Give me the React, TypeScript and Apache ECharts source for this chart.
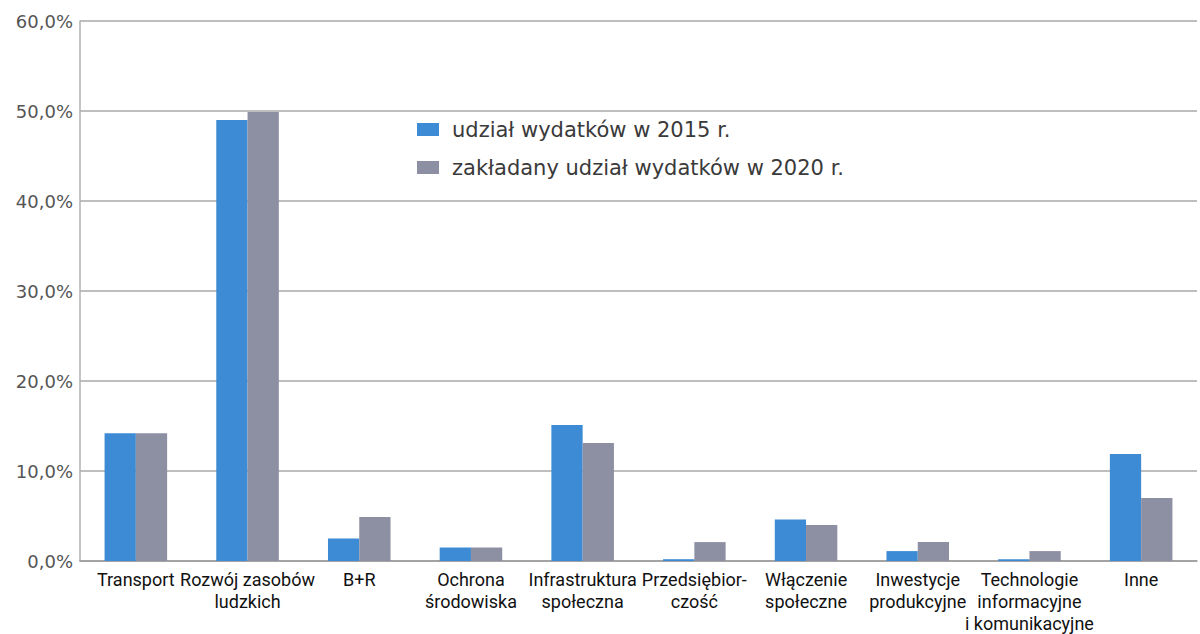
import React, { useEffect, useRef } from "react";
import * as echarts from "echarts";

const categories = [
  "Transport",
  "Rozwój zasobów\nludzkich",
  "B+R",
  "Ochrona\nśrodowiska",
  "Infrastruktura\nspołeczna",
  "Przedsiębior-\nczość",
  "Włączenie\nspołeczne",
  "Inwestycje\nprodukcyjne",
  "Technologie\ninformacyjne\ni komunikacyjne",
  "Inne",
];
const series2015 = [14.2, 49.0, 2.5, 1.5, 15.1, 0.2, 4.6, 1.1, 0.2, 11.9];
const series2020 = [14.2, 49.9, 4.9, 1.5, 13.1, 2.1, 4.0, 2.1, 1.1, 7.0];
const seriesNames = ["udział wydatków w 2015 r.", "zakładany udział wydatków w 2020 r."];

export default function App() {
  const ref = useRef<HTMLDivElement>(null);
  useEffect(() => {
    if (!ref.current) return;
    const chart = echarts.init(ref.current, undefined, { renderer: "svg" });
    chart.setOption({
      animation: false,
      backgroundColor: "#ffffff",
      grid: { left: 80, right: 3, top: 21, bottom: 67, containLabel: false },
      legend: {
        orient: "vertical",
        left: 412,
        top: 112,
        itemWidth: 22,
        itemHeight: 13,
        itemGap: 13,
        icon: "rect",
        textStyle: {
          fontFamily: "DejaVu Sans",
          fontSize: 21,
          lineHeight: 25,
          color: "#3a3a3a",
          padding: [0, 0, 0, 8],
        },
        data: seriesNames,
      },
      xAxis: {
        type: "category",
        data: categories,
        axisLine: { lineStyle: { color: "#9a9a9a", width: 1.5 } },
        axisTick: { show: false },
        axisLabel: {
          interval: 0,
          fontFamily: "Roboto",
          fontSize: 18,
          lineHeight: 22,
          color: "#111111",
          margin: 7,
        },
      },
      yAxis: {
        type: "value",
        min: 0,
        max: 60,
        interval: 10,
        axisLine: { show: true, lineStyle: { color: "#b0b0b0", width: 1.5 } },
        axisTick: { show: false },
        splitLine: { lineStyle: { color: "#a8a8a8", width: 1.5 } },
        axisLabel: {
          formatter: (v: number) => v.toFixed(1).replace(".", ",") + "%",
          fontFamily: "DejaVu Sans",
          fontSize: 18,
          color: "#555555",
          margin: 7,
        },
      },
      series: [
        {
          name: seriesNames[0],
          type: "bar",
          data: series2015,
          itemStyle: { color: "#3c8bd4" },
          barGap: "0%",
          barCategoryGap: "44%",
        },
        {
          name: seriesNames[1],
          type: "bar",
          data: series2020,
          itemStyle: { color: "#8d8fa2" },
          barGap: "0%",
          barCategoryGap: "44%",
        },
      ],
    });
    return () => chart.dispose();
  }, []);
  return (
    <div
      ref={ref}
      style={{ position: "fixed", left: 0, top: 0, width: 1200, height: 634 }}
    />
  );
}
